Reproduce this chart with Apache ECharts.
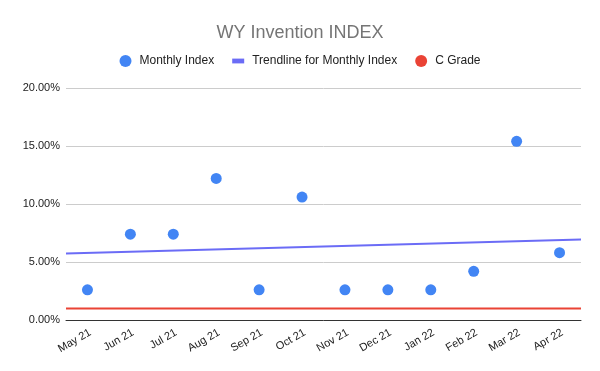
<!DOCTYPE html>
<html><head><meta charset="utf-8">
<script src="https://cdn.jsdelivr.net/npm/echarts@6/dist/echarts.min.js"></script>
<style>html,body{margin:0;padding:0;background:#fff}#c{width:600px;height:371px}</style>
</head><body><div id="c"></div>
<script>
var categories = ['May 21','Jun 21','Jul 21','Aug 21','Sep 21','Oct 21','Nov 21','Dec 21','Jan 22','Feb 22','Mar 22','Apr 22'];
var monthlyIndex = [2.6, 7.4, 7.4, 12.2, 2.6, 10.6, 2.6, 2.6, 2.6, 4.2, 15.4, 5.8];
var cGrade = 1.0;
var yTicks = [0, 5, 10, 15, 20];

// linear regression trendline of monthly index
var n = monthlyIndex.length, mx = 0, my = 0;
monthlyIndex.forEach(function(v,i){ mx += i; my += v; });
mx /= n; my /= n;
var sxy = 0, sxx = 0;
monthlyIndex.forEach(function(v,i){ sxy += (i-mx)*(v-my); sxx += (i-mx)*(i-mx); });
var slope = sxy/sxx, intercept = my - slope*mx;
var x0 = -0.5, x1 = n - 0.5;
var trend = [[x0, intercept + slope*x0], [x1, intercept + slope*x1]];
var cLine = [[x0, cGrade], [x1, cGrade]];

var chart = echarts.init(document.getElementById('c'), null, {renderer:'canvas'});
chart.setOption({
  animation: false,
  title: { text: 'WY Invention INDEX', left: 'center', top: 19,
    textStyle: { fontFamily: 'Liberation Sans, Arial', fontSize: 18, fontWeight: 'normal', color: '#757575' } },
  legend: { top: 50, left: 'center', itemGap: 18, itemWidth: 12, itemHeight: 12,
    textStyle: { fontFamily: 'Liberation Sans, Arial', fontSize: 12, color: '#222', padding: [0,0,0,3] },
    data: [
      { name: 'Monthly Index', icon: 'circle' },
      { name: 'Trendline for Monthly Index', icon: 'path://M0,0H10V4H0Z' },
      { name: 'C Grade', icon: 'circle' }
    ] },
  grid: { left: 66, right: 19, top: 88, bottom: 51, containLabel: false },
  xAxis: [
    { type: 'category', data: categories, boundaryGap: true,
      axisLine: { show: true, lineStyle: { color: '#333', width: 1 } },
      axisTick: { show: false },
      axisLabel: { rotate: 30, verticalAlign: 'top', fontFamily: 'Liberation Sans, Arial', fontSize: 11, color: '#222', margin: 7, interval: 0 } },
    { type: 'value', min: x0, max: x1, show: false }
  ],
  yAxis: { type: 'value', min: 0, max: 20, interval: 5,
    axisLine: { show: false }, axisTick: { show: false },
    splitLine: { lineStyle: { color: '#cccccc' } },
    axisLabel: { formatter: function(v){ return v.toFixed(2) + '%'; },
      fontFamily: 'Liberation Sans, Arial', fontSize: 11, color: '#222', margin: 6 } },
  series: [
    { name: 'C Grade', type: 'line', xAxisIndex: 1, data: cLine, symbol: 'none',
      itemStyle: { color: '#ea4335' }, lineStyle: { color: '#ea4335', width: 2 }, z: 2 },
    { name: 'Trendline for Monthly Index', type: 'line', xAxisIndex: 1, data: trend, symbol: 'none',
      itemStyle: { color: '#6b6cf6' }, lineStyle: { color: '#6b6cf6', width: 2 }, z: 3 },
    { name: 'Monthly Index', type: 'scatter', xAxisIndex: 0, data: monthlyIndex, symbolSize: 11,
      itemStyle: { color: '#4285f4', opacity: 1 }, z: 4 }
  ]
});
</script></body></html>
